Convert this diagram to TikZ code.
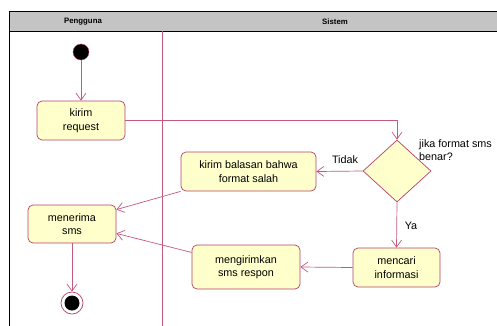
\documentclass[tikz,border=0pt]{standalone}
\usepackage{fontspec}
\setmainfont{Liberation Sans}
\usetikzlibrary{arrows.meta,shapes.geometric}
\definecolor{actfill}{HTML}{FFFFCC}
\definecolor{actline}{HTML}{B5406A}
\definecolor{flowline}{HTML}{C4587E}
\definecolor{lanegray}{HTML}{C4C4C4}

\begin{document}
\begin{tikzpicture}[
  x=1pt, y=-1pt,
  font=\fontsize{10.8}{13.5}\selectfont,
  >={Straight Barb[length=7pt,width=10pt]},
  act/.style={draw=actline, fill=actfill, rounded corners=5pt, align=center,
    inner sep=2pt, line width=0.7pt},
  flow/.style={->, draw=flowline, line width=0.7pt},
]
\clip (0,0) rectangle (497,325);
% swimlanes
\fill[lanegray] (9,11) rectangle (520,31);
\draw[line width=0.8pt] (520,11) -- (9,11) -- (9,340);
\draw[line width=0.6pt] (9,31) -- (520,31);
\draw[flowline, line width=0.6pt] (162,31) -- (162,340);
\node[font=\bfseries\fontsize{7.8}{9}\selectfont] (pengguna) at (83,22) {Pengguna};
\node[font=\bfseries\fontsize{7.8}{9}\selectfont] (sistem) at (335,22) {Sistem};
% nodes
\node[circle, fill=black, draw=actline, minimum size=16pt, inner sep=0pt] (start) at (81,52) {};
\node[act, minimum width=88pt, minimum height=39pt] (request) at (81,120.5) {kirim\\request};
\node[diamond, draw=actline, fill=actfill, line width=0.7pt, inner sep=0pt,
  minimum width=68pt, minimum height=62pt, aspect=1.1] (cek) at (397,171) {};
\node[act, minimum width=135pt, minimum height=39pt] (balasan) at (248.5,171.5) {kirim balasan bahwa\\format salah};
\node[act, minimum width=88pt, minimum height=38pt] (terima) at (72,224) {menerima\\sms};
\node[act, minimum width=108pt, minimum height=44pt] (kirimsms) at (246,267) {mengirimkan\\sms respon};
\node[act, minimum width=87pt, minimum height=39pt] (cari) at (396.5,267.5) {mencari\\informasi};
\node[circle, draw=actline, fill=white, minimum size=22pt, inner sep=0pt, line width=0.7pt] (selesai) at (72,303) {};
\node[circle, fill=black, minimum size=15pt, inner sep=0pt] (selesaiin) at (selesai) {};
% labels
\node[anchor=north west, align=left, inner sep=0pt] (syarat) at (419,139) {jika format sms\\benar?};
\node[inner sep=0pt] (tidak) at (345,160) {Tidak};
\node[inner sep=0pt] (ya) at (411,226) {Ya};
% flows
\draw[flow] (start) -- (request);
\draw[flow] (request.east) -| (cek.north);
\draw[flow] (cek.west) -- (balasan.east);
\draw[flow] (cek.south) -- (cari.north);
\draw[flow] (cari.west) -- (kirimsms.east);
\draw[flow] (balasan.south west) -- (terima.18);
\draw[flow] (kirimsms.165) -- (terima.-12);
\draw[flow] (terima.south) -- (selesai.north);
\end{tikzpicture}
\end{document}
